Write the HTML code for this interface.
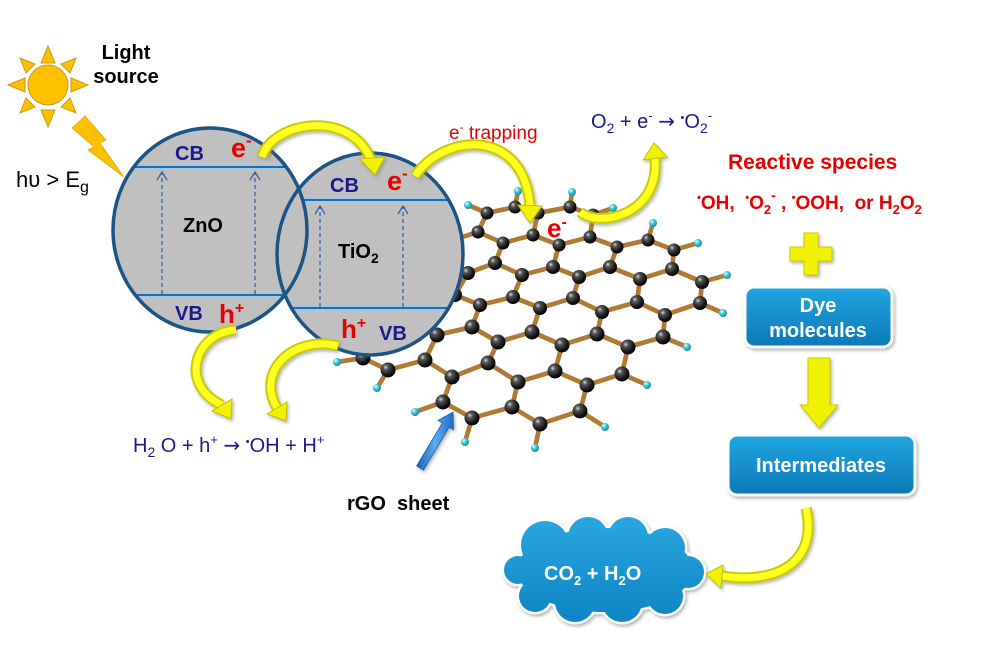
<!DOCTYPE html>
<html><head><meta charset="utf-8">
<style>
html,body{margin:0;padding:0;background:#fff;}
svg{display:block;}
text{font-family:"Liberation Sans",Arial,sans-serif;}
.ar{font-family:"DejaVu Sans",sans-serif;}
</style></head>
<body>
<svg width="1002" height="648" viewBox="0 0 1002 648" xmlns="http://www.w3.org/2000/svg">
<defs>
  <radialGradient id="cg" cx="0.35" cy="0.32" r="0.7">
    <stop offset="0" stop-color="#d8d8d8"/>
    <stop offset="0.25" stop-color="#555"/>
    <stop offset="0.75" stop-color="#151515"/>
    <stop offset="1" stop-color="#000"/>
  </radialGradient>
  <radialGradient id="hg" cx="0.35" cy="0.32" r="0.7">
    <stop offset="0" stop-color="#e8ffff"/>
    <stop offset="0.45" stop-color="#3ccbd3"/>
    <stop offset="1" stop-color="#168a98"/>
  </radialGradient>
  <linearGradient id="boxg" x1="0" y1="0" x2="0" y2="1">
    <stop offset="0" stop-color="#22a6e0"/>
    <stop offset="1" stop-color="#0a78b6"/>
  </linearGradient>
  <linearGradient id="cloudg" gradientUnits="userSpaceOnUse" x1="0" y1="515" x2="0" y2="625">
    <stop offset="0" stop-color="#2aa7e1"/>
    <stop offset="1" stop-color="#0c84c2"/>
  </linearGradient>
  <linearGradient id="blueg" x1="0" y1="0" x2="1" y2="0">
    <stop offset="0" stop-color="#1b5fb5"/>
    <stop offset="0.5" stop-color="#58aef0"/>
    <stop offset="1" stop-color="#1d6cc4"/>
  </linearGradient>
  <filter id="sh" x="-20%" y="-20%" width="140%" height="140%">
    <feDropShadow dx="1.5" dy="2" stdDeviation="1.5" flood-color="#777" flood-opacity="0.55"/>
  </filter>
  <clipPath id="clipZ"><ellipse cx="210" cy="230" rx="97" ry="102"/></clipPath>
  <clipPath id="clipT"><ellipse cx="370" cy="254" rx="93" ry="101"/></clipPath>
</defs>

<rect width="1002" height="648" fill="#fff"/>

<!-- Sun -->
<g fill="#ffc000" stroke="#c99a1a" stroke-width="1">
  <polygon points="48,46 41,63 55,63"/>
  <polygon points="48,127 41,110 55,110"/>
  <polygon points="8,85 25,78 25,92"/>
  <polygon points="88,85 71,78 71,92"/>
  <polygon points="76,58 70,73 61,64"/>
  <polygon points="76,113 61,107 70,98"/>
  <polygon points="20,113 26,98 35,107"/>
  <polygon points="20,58 35,64 26,73"/>
  <circle cx="48" cy="85" r="20"/>
</g>
<text x="126" y="59" text-anchor="middle" font-weight="bold" font-size="20" fill="#000">Light</text>
<text x="126" y="83" text-anchor="middle" font-weight="bold" font-size="20" fill="#000">source</text>
<!-- lightning -->
<path d="M72,128 L85,116 L106,140 L100,143 L124,177 L88,150 L94,147 Z" fill="#ffc000" stroke="#e8a800" stroke-width="0.8"/>
<text x="16" y="187" font-size="22" fill="#000">hυ &gt; E<tspan font-size="16" dy="5">g</tspan></text>

<!-- Graphene bonds -->
<g fill="none" stroke-linecap="round">
<path id="bonds" stroke="#b07a35" stroke-width="4.5" d="
M487,213L515,207 M515,207L538,213 M538,213L570,207 M570,207L593,215
M468,205L487,213 M518,191L515,207 M572,192L570,207 M613,208L593,215
M487,213L478,232 M538,213L533,235 M593,215L590,237
M450,241L478,232 M478,232L503,243 M503,243L533,235 M533,235L559,245 M559,245L590,237 M590,237L617,247 M617,247L648,240 M648,240L674,250
M653,223L648,240 M698,243L674,250
M450,241L443,263 M503,243L495,263 M559,245L553,267 M617,247L610,267 M674,250L672,269
M443,263L468,273 M468,273L495,263 M495,263L522,275 M522,275L553,267 M553,267L579,277 M579,277L610,267 M610,267L640,279 M640,279L672,269 M672,269L702,282
M727,275L702,282
M468,273L455,295 M522,275L513,297 M579,277L573,298 M640,279L637,302 M702,282L700,303
M425,306L455,295 M455,295L480,305 M480,305L513,297 M513,297L540,308 M540,308L573,298 M573,298L602,312 M602,312L637,302 M637,302L665,315 M665,315L700,303
M723,313L700,303
M425,306L410,325 M480,305L472,327 M540,308L532,332 M602,312L597,334 M665,315L663,337
M382,337L410,325 M410,325L437,335 M437,335L472,327 M472,327L498,342 M498,342L532,332 M532,332L562,345 M562,345L597,334 M597,334L628,347 M628,347L663,337
M687,347L663,337
M382,337L363,358 M437,335L425,360 M498,342L488,363 M562,345L555,371 M628,347L622,374
M363,358L388,370 M388,370L425,360 M425,360L452,377 M452,377L488,363 M488,363L518,382 M518,382L555,371 M555,371L587,385 M587,385L622,374
M337,362L363,358 M377,388L388,370 M647,385L622,374
M452,377L443,402 M518,382L512,407 M587,385L580,411
M443,402L472,418 M472,418L512,407 M512,407L540,424 M540,424L580,411
M415,412L443,402 M465,442L472,418 M535,448L540,424 M605,427L580,411"/>
<use href="#bonds" stroke="#edcc92" stroke-width="1.6"/>
</g>
<!-- Carbon atoms -->
<g fill="url(#cg)">
<circle cx="487" cy="213" r="6.5"/><circle cx="515" cy="207" r="6.5"/><circle cx="538" cy="213" r="6.5"/><circle cx="570" cy="207" r="6.5"/><circle cx="593" cy="215" r="6.5"/>
<circle cx="450" cy="241" r="6.5"/><circle cx="478" cy="232" r="6.5"/><circle cx="503" cy="243" r="6.5"/><circle cx="533" cy="235" r="6.5"/><circle cx="559" cy="245" r="6.5"/><circle cx="590" cy="237" r="6.5"/><circle cx="617" cy="247" r="6.5"/><circle cx="648" cy="240" r="6.5"/><circle cx="674" cy="250" r="6.5"/>
<circle cx="443" cy="263" r="7"/><circle cx="468" cy="273" r="7"/><circle cx="495" cy="263" r="7"/><circle cx="522" cy="275" r="7"/><circle cx="553" cy="267" r="7"/><circle cx="579" cy="277" r="7"/><circle cx="610" cy="267" r="7"/><circle cx="640" cy="279" r="7"/><circle cx="672" cy="269" r="7"/><circle cx="702" cy="282" r="7"/>
<circle cx="425" cy="306" r="7"/><circle cx="455" cy="295" r="7"/><circle cx="480" cy="305" r="7"/><circle cx="513" cy="297" r="7"/><circle cx="540" cy="308" r="7"/><circle cx="573" cy="298" r="7"/><circle cx="602" cy="312" r="7"/><circle cx="637" cy="302" r="7"/><circle cx="665" cy="315" r="7"/><circle cx="700" cy="303" r="7"/>
<circle cx="382" cy="337" r="7.5"/><circle cx="410" cy="325" r="7.5"/><circle cx="437" cy="335" r="7.5"/><circle cx="472" cy="327" r="7.5"/><circle cx="498" cy="342" r="7.5"/><circle cx="532" cy="332" r="7.5"/><circle cx="562" cy="345" r="7.5"/><circle cx="597" cy="334" r="7.5"/><circle cx="628" cy="347" r="7.5"/><circle cx="663" cy="337" r="7.5"/>
<circle cx="363" cy="358" r="7.5"/><circle cx="388" cy="370" r="7.5"/><circle cx="425" cy="360" r="7.5"/><circle cx="452" cy="377" r="7.5"/><circle cx="488" cy="363" r="7.5"/><circle cx="518" cy="382" r="7.5"/><circle cx="555" cy="371" r="7.5"/><circle cx="587" cy="385" r="7.5"/><circle cx="622" cy="374" r="7.5"/>
<circle cx="443" cy="402" r="7.5"/><circle cx="472" cy="418" r="7.5"/><circle cx="512" cy="407" r="7.5"/><circle cx="540" cy="424" r="7.5"/><circle cx="580" cy="411" r="7.5"/>
</g>
<!-- Hydrogen atoms -->
<g fill="url(#hg)">
<circle cx="468" cy="205" r="4"/><circle cx="518" cy="191" r="4"/><circle cx="572" cy="192" r="4"/><circle cx="613" cy="208" r="4"/><circle cx="653" cy="223" r="4"/><circle cx="698" cy="243" r="4"/><circle cx="727" cy="275" r="4"/><circle cx="723" cy="313" r="4"/><circle cx="687" cy="347" r="4"/><circle cx="647" cy="385" r="4"/><circle cx="337" cy="362" r="4"/><circle cx="377" cy="388" r="4"/><circle cx="415" cy="412" r="4"/><circle cx="465" cy="442" r="4"/><circle cx="535" cy="448" r="4"/><circle cx="605" cy="427" r="4"/>
</g>

<!-- TiO2 particle -->
<ellipse cx="370" cy="254" rx="93" ry="101" fill="#c0c0c0"/>
<g clip-path="url(#clipT)">
  <line x1="270" y1="200" x2="470" y2="200" stroke="#9cc9ec" stroke-width="5"/>
  <line x1="270" y1="200" x2="470" y2="200" stroke="#1e6cae" stroke-width="2"/>
  <line x1="270" y1="308" x2="470" y2="308" stroke="#9cc9ec" stroke-width="5"/>
  <line x1="270" y1="308" x2="470" y2="308" stroke="#1e6cae" stroke-width="2"/>
</g>
<g stroke="#2a5c9c" stroke-width="1.2" fill="none">
  <line x1="320" y1="307" x2="320" y2="207" stroke-dasharray="4,3"/>
  <path d="M315,214 L320,206 L325,214"/>
  <line x1="403" y1="307" x2="403" y2="207" stroke-dasharray="4,3"/>
  <path d="M398,214 L403,206 L408,214"/>
</g>

<!-- ZnO particle -->
<ellipse cx="210" cy="230" rx="97" ry="102" fill="#c0c0c0"/>
<g clip-path="url(#clipZ)">
  <line x1="110" y1="167" x2="310" y2="167" stroke="#9cc9ec" stroke-width="5"/>
  <line x1="110" y1="167" x2="310" y2="167" stroke="#1e6cae" stroke-width="2"/>
  <line x1="110" y1="295" x2="310" y2="295" stroke="#9cc9ec" stroke-width="5"/>
  <line x1="110" y1="295" x2="310" y2="295" stroke="#1e6cae" stroke-width="2"/>
</g>
<g stroke="#2a5c9c" stroke-width="1.2" fill="none">
  <line x1="162" y1="294" x2="162" y2="173" stroke-dasharray="4,3"/>
  <path d="M157,180 L162,172 L167,180"/>
  <line x1="255" y1="294" x2="255" y2="173" stroke-dasharray="4,3"/>
  <path d="M250,180 L255,172 L260,180"/>
</g>

<!-- outlines -->
<ellipse cx="370" cy="254" rx="93" ry="101" fill="none" stroke="#1d5385" stroke-width="3.5"/>
<ellipse cx="210" cy="230" rx="97" ry="102" fill="none" stroke="#1d5385" stroke-width="3.5"/>

<!-- ZnO labels -->
<text x="175" y="160" font-weight="bold" font-size="20" fill="#1a1a8c">CB</text>
<text x="231" y="157" font-weight="bold" font-size="27" fill="#e60000">e<tspan font-size="17" dy="-11">-</tspan></text>
<text x="183" y="232" font-weight="bold" font-size="20" fill="#000">ZnO</text>
<text x="175" y="320" font-weight="bold" font-size="20" fill="#1a1a8c">VB</text>
<text x="219" y="323" font-weight="bold" font-size="26" fill="#e60000">h<tspan font-size="16" dy="-10">+</tspan></text>

<!-- TiO2 labels -->
<text x="330" y="192" font-weight="bold" font-size="20" fill="#1a1a8c">CB</text>
<text x="387" y="190" font-weight="bold" font-size="27" fill="#e60000">e<tspan font-size="17" dy="-11">-</tspan></text>
<text x="338" y="258" font-weight="bold" font-size="20" fill="#000">TiO<tspan font-size="14" dy="5">2</tspan></text>
<text x="341" y="338" font-weight="bold" font-size="26" fill="#e60000">h<tspan font-size="16" dy="-10">+</tspan></text>
<text x="379" y="340" font-weight="bold" font-size="20" fill="#1a1a8c">VB</text>

<!-- graphene e- -->
<text x="547" y="237" font-weight="bold" font-size="26" fill="#e60000">e<tspan font-size="16" dy="-10">-</tspan></text>

<!-- Text labels -->
<text x="449" y="139" font-size="19" fill="#e60000">e<tspan font-size="12" dy="-8">-</tspan><tspan dy="8"> trapping</tspan></text>
<text x="591" y="128" font-size="20" fill="#1a1a8c">O<tspan font-size="14" dy="5">2</tspan><tspan dy="-5"> + e</tspan><tspan font-size="13" dy="-8">-</tspan><tspan dy="8"> </tspan><tspan class="ar" font-size="20">→</tspan><tspan> </tspan><tspan font-size="11" dy="-7">•</tspan><tspan dy="7">O</tspan><tspan font-size="14" dy="5">2</tspan><tspan font-size="13" dy="-13">-</tspan></text>
<text x="728" y="169" font-weight="bold" font-size="21" fill="#e60000">Reactive species</text>
<text x="697" y="209" font-weight="bold" font-size="19" fill="#e60000"><tspan font-size="11" dy="-8">•</tspan><tspan dy="8">OH,&#160; </tspan><tspan font-size="11" dy="-8">•</tspan><tspan dy="8">O</tspan><tspan font-size="13" dy="5">2</tspan><tspan font-size="14" dy="-14">-</tspan><tspan dy="9"> , </tspan><tspan font-size="11" dy="-8">•</tspan><tspan dy="8">OOH,&#160; or H</tspan><tspan font-size="13" dy="5">2</tspan><tspan dy="-5">O</tspan><tspan font-size="13" dy="5">2</tspan></text>
<text x="133" y="452" font-size="20" fill="#1a1a8c">H<tspan font-size="14" dy="5">2</tspan><tspan dy="-5"> O + h</tspan><tspan font-size="13" dy="-8">+</tspan><tspan dy="8"> </tspan><tspan class="ar" font-size="20">→</tspan><tspan> </tspan><tspan font-size="11" dy="-7">•</tspan><tspan dy="7">OH + H</tspan><tspan font-size="13" dy="-8">+</tspan></text>
<text x="347" y="510" font-weight="bold" font-size="20" fill="#000">rGO&#160; sheet</text>

<!-- rGO blue arrow -->
<polygon points="416.6,465.9 442.4,422.9 438.1,420.4 453,412 453.5,429.6 449.2,427.1 423.4,470.1" fill="url(#blueg)" stroke="#1a5aa8" stroke-width="0.8" filter="url(#sh)"/>

<!-- Plus sign -->
<polygon points="804,233 818,233 818,247 832,247 832,261 818,261 818,275 804,275 804,261 790,261 790,247 804,247" fill="#f2f200" stroke="#c9c900" stroke-width="1" filter="url(#sh)"/>

<!-- Boxes -->
<rect x="745" y="287" width="147" height="60" rx="9" fill="url(#boxg)" stroke="#fff" stroke-width="3" filter="url(#sh)"/>
<text x="818" y="312" text-anchor="middle" font-weight="bold" font-size="20" fill="#fff">Dye</text>
<text x="818" y="337" text-anchor="middle" font-weight="bold" font-size="20" fill="#fff">molecules</text>
<polygon points="808,358 830,358 830,405 838,405 819,428 800,405 808,405" fill="#f2f200" stroke="#c9c900" stroke-width="1" filter="url(#sh)"/>
<rect x="728" y="435" width="187" height="60" rx="9" fill="url(#boxg)" stroke="#fff" stroke-width="3" filter="url(#sh)"/>
<text x="821" y="472" text-anchor="middle" font-weight="bold" font-size="20" fill="#fff">Intermediates</text>

<!-- Cloud -->
<g filter="url(#sh)" fill="#fff" stroke="#fff" stroke-width="5">
  <ellipse cx="605" cy="570" rx="88" ry="42"/>
  <circle cx="545" cy="545" r="24"/><circle cx="588" cy="537" r="20"/><circle cx="628" cy="537" r="20"/><circle cx="665" cy="548" r="20"/><circle cx="688" cy="572" r="16"/><circle cx="665" cy="596" r="18"/><circle cx="622" cy="602" r="20"/><circle cx="575" cy="602" r="20"/><circle cx="535" cy="596" r="16"/><circle cx="518" cy="570" r="14"/>
</g>
<g fill="url(#cloudg)">
  <ellipse cx="605" cy="570" rx="88" ry="42"/>
  <circle cx="545" cy="545" r="24"/><circle cx="588" cy="537" r="20"/><circle cx="628" cy="537" r="20"/><circle cx="665" cy="548" r="20"/><circle cx="688" cy="572" r="16"/><circle cx="665" cy="596" r="18"/><circle cx="622" cy="602" r="20"/><circle cx="575" cy="602" r="20"/><circle cx="535" cy="596" r="16"/><circle cx="518" cy="570" r="14"/>
</g>
<text x="544" y="580" font-weight="bold" font-size="20" fill="#fff">CO<tspan font-size="13" dy="5">2</tspan><tspan dy="-5"> + H</tspan><tspan font-size="13" dy="5">2</tspan><tspan dy="-5">O</tspan></text>

<!-- Yellow curved arrows -->
<g filter="url(#sh)">
  <g fill="none" stroke-linecap="butt">
    <path d="M262,157 C272,122 350,108 371,160" stroke="#caca00" stroke-width="11"/>
    <path d="M262,157 C272,122 350,108 371,160" stroke="#ffff22" stroke-width="7"/>
    <path d="M415,176 C445,132 525,128 530,207" stroke="#caca00" stroke-width="11"/>
    <path d="M415,176 C445,132 525,128 530,207" stroke="#ffff22" stroke-width="7"/>
    <path d="M580,212 C600,228 660,215 655,158" stroke="#caca00" stroke-width="11"/>
    <path d="M580,212 C600,228 660,215 655,158" stroke="#ffff22" stroke-width="7"/>
    <path d="M236,330 C195,332 178,385 222,405" stroke="#caca00" stroke-width="11"/>
    <path d="M236,330 C195,332 178,385 222,405" stroke="#ffff22" stroke-width="7"/>
    <path d="M338,346 C295,335 255,370 277,408" stroke="#caca00" stroke-width="11"/>
    <path d="M338,346 C295,335 255,370 277,408" stroke="#ffff22" stroke-width="7"/>
    <path d="M806,508 C818,560 780,585 722,576" stroke="#caca00" stroke-width="11"/>
    <path d="M806,508 C818,560 780,585 722,576" stroke="#ffff22" stroke-width="7"/>
  </g>
  <g fill="#f2f200" stroke="#c0c000" stroke-width="1">
    <polygon points="360,159 385,157 375,175"/>
    <polygon points="518,205 542,206 530,223"/>
    <polygon points="643,160 667,157 654,143"/>
    <polygon points="212,411 232,399 231,419"/>
    <polygon points="267,414 287,402 286,421"/>
    <polygon points="723,565 721,588 706,574"/>
  </g>
</g>
</svg>
</body></html>
